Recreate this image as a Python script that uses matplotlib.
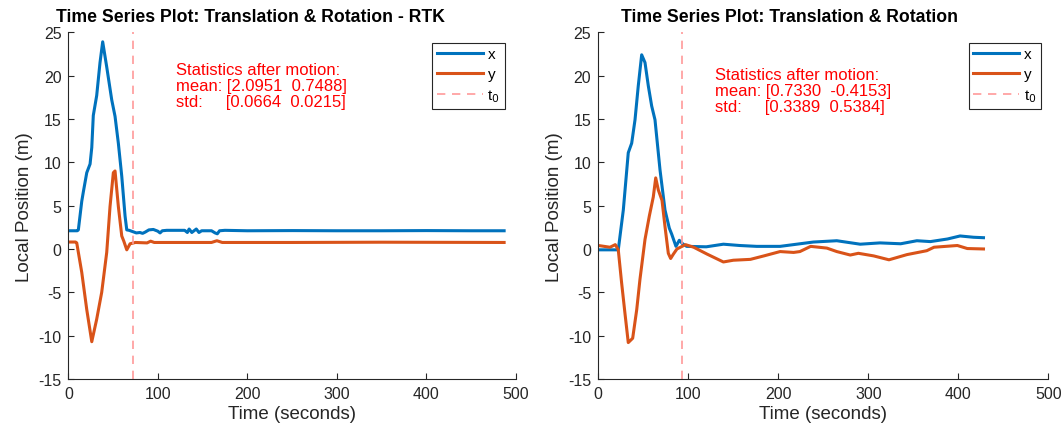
import matplotlib
matplotlib.use("Agg")
import matplotlib.pyplot as plt

plt.rcParams['font.family'] = ['Liberation Sans', 'DejaVu Sans']
plt.rcParams['axes.unicode_minus'] = False

# ---- data ----
# left: RTK
t_rtk_x = [0, 10, 11.2, 15, 16.8, 20.6, 24.3, 26.2, 27.9, 31.7, 35.4, 38.4, 42.9, 48.5, 52.2,
           55.9, 59.7, 63.4, 65.3, 68, 72, 76, 80, 83, 86, 90, 95, 100, 102.5, 105, 110,
           130, 133, 135, 138, 143, 146, 149, 160, 164, 166.5, 169, 175, 200, 250, 300,
           350, 400, 450, 487]
x_rtk = [2.1, 2.1, 2.2, 5.5, 6.6, 8.8, 9.8, 11.7, 15.4, 17.7, 21.5, 23.9, 21.0, 17.2, 15.3,
         12.2, 8.4, 3.8, 2.2, 2.15, 2.0, 1.85, 1.9, 1.8, 1.95, 2.2, 2.25, 2.05, 1.85, 2.1, 2.15,
         2.15, 1.9, 2.3, 1.9, 2.3, 1.9, 2.1, 2.1, 1.85, 1.75, 2.1, 2.15, 2.1, 2.12, 2.1,
         2.1, 2.12, 2.1, 2.1]
t_rtk_y = [0, 8, 9.4, 15, 20.6, 26.2, 31.7, 37.3, 42.9, 46.6, 50.3, 52.2, 55.9, 59.7, 62,
           65.3, 69, 75, 88, 92, 96, 120, 160, 166, 172, 250, 350, 487]
y_rtk = [0.8, 0.8, 0.7, -2.7, -7.0, -10.7, -8.1, -5.0, -0.4, 4.9, 8.8, 9.0, 4.9, 1.5, 0.9,
         -0.1, 0.6, 0.75, 0.7, 0.9, 0.75, 0.75, 0.75, 0.95, 0.75, 0.75, 0.78, 0.75]
t0_rtk = 72
stats_rtk = "Statistics after motion:\nmean: [2.0951  0.7488]\nstd:     [0.0664  0.0215]"

# right: no RTK
t_x = [0, 10, 22.2, 27.8, 33.3, 37.1, 40.8, 44.4, 48.2, 51.9, 55.6, 59.3, 63, 68.6, 74.1,
       78.9, 81.6, 86.3, 90, 93.7, 98.2, 120, 139, 157, 176, 202, 239, 265, 291, 313, 336,
       354, 369, 388, 402, 417, 428]
x_nortk = [-0.1, -0.1, -0.1, 4.5, 11.1, 12.2, 14.9, 18.8, 22.4, 21.5, 18.8, 16.5, 14.9, 9.1, 4.5,
           2.4, 1.7, 0.3, 1.0, 0.6, 0.3, 0.25, 0.55, 0.4, 0.3, 0.3, 0.8, 0.95, 0.55, 0.7, 0.6,
           0.95, 0.85, 1.15, 1.5, 1.35, 1.3]
t_y = [0, 13, 18.9, 22.2, 25.9, 29.6, 33.3, 38.2, 42.7, 46.3, 51.9, 56.7, 61.1, 63.8, 66.7,
       70.8, 74.1, 77.8, 80.4, 83.4, 87.4, 96.9, 106, 121, 139, 150, 169, 184, 202, 217,
       224, 236, 254, 265, 280, 289, 306, 323, 343, 365, 373, 399, 410, 428]
y_nortk = [0.4, 0.2, 0.5, -0.1, -3.9, -7.4, -10.8, -10.3, -7.0, -3.5, 1.1, 3.8, 6.0, 8.2, 6.8,
           5.6, 2.6, -0.5, -1.1, -0.6, 0.0, 0.5, 0.2, -0.6, -1.5, -1.3, -1.2, -0.8, -0.3, -0.4,
           -0.3, 0.3, 0.1, -0.3, -0.7, -0.5, -0.8, -1.25, -0.65, -0.2, 0.2, 0.4, 0.05, 0.0]
t0_nortk = 92.7
stats_nortk = "Statistics after motion:\nmean: [0.7330  -0.4153]\nstd:     [0.3389  0.5384]"

blue = '#0072BD'
orange = '#D95319'
dark = '#262626'

fig = plt.figure(figsize=(10.61, 4.27), dpi=100)
ax1 = fig.add_axes([0.0644, 0.1101, 0.4217, 0.812])
ax2 = fig.add_axes([0.5639, 0.1101, 0.4241, 0.812])


def draw(ax, tx, xs, ty, ys, t0, stats, title, title_x, text_pos, leg_x):
    ax.plot(tx, xs, color=blue, lw=2.2, label='x')
    ax.plot(ty, ys, color=orange, lw=2.2, label='y')
    ax.axvline(t0, color='#FF9999', lw=1.2, ls=(0, (5, 4)), label='t$_0$')
    ax.set_xlim(0, 500)
    ax.set_ylim(-15, 25)
    ax.set_xticks(range(0, 501, 100))
    ax.set_yticks(range(-15, 26, 5))
    ax.spines['top'].set_visible(False)
    ax.spines['right'].set_visible(False)
    for s in ('left', 'bottom'):
        ax.spines[s].set_color(dark)
        ax.spines[s].set_linewidth(0.8)
    ax.tick_params(direction='in', length=4, width=0.8, colors=dark, labelsize=11.5, pad=5)
    ax.set_xlabel('Time (seconds)', fontsize=13.5, color=dark, labelpad=3)
    ax.set_ylabel('Local Position (m)', fontsize=13.5, color=dark, labelpad=4)
    ax.set_title(title, fontsize=12.7, fontweight='bold', x=title_x, pad=8)
    ax.text(text_pos[0], text_pos[1], stats, color='red', fontsize=12,
            va='top', ha='left', linespacing=1.1)
    leg = ax.legend(loc='upper right', bbox_to_anchor=(leg_x, 0.97), fontsize=11,
                    fancybox=False, framealpha=1, edgecolor=dark, borderaxespad=0,
                    handlelength=3.0, labelspacing=0.4, borderpad=0.3, handletextpad=0.3)
    leg.get_frame().set_linewidth(0.8)


draw(ax1, t_rtk_x, x_rtk, t_rtk_y, y_rtk, t0_rtk, stats_rtk,
     'Time Series Plot: Translation & Rotation - RTK', 0.408, (120.4, 21.6), 0.975)
draw(ax2, t_x, x_nortk, t_y, y_nortk, t0_nortk, stats_nortk,
     'Time Series Plot: Translation & Rotation', 0.426, (129.7, 21.0), 0.983)

fig.savefig('out.png', dpi=100)
